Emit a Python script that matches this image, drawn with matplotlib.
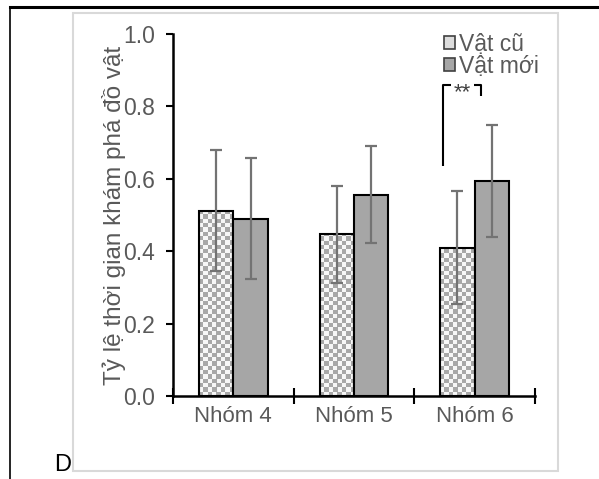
import numpy as np
import matplotlib
matplotlib.use("Agg")
import matplotlib.pyplot as plt
from matplotlib.patches import Patch, Rectangle
from matplotlib.lines import Line2D
from matplotlib.colors import ListedColormap

# Data
groups = ["Nhóm 4", "Nhóm 5", "Nhóm 6"]
series = ["Vật cũ", "Vật mới"]
old_mean = [0.512, 0.447, 0.410]
old_err = [0.168, 0.134, 0.157]
new_mean = [0.490, 0.556, 0.595]
new_err = [0.168, 0.134, 0.155]
yticks = [0.0, 0.2, 0.4, 0.6, 0.8, 1.0]
ylabel = "Tỷ lệ thời gian khám phá đồ vật"
sig_label = "**"
panel_label = "D"

plt.rcParams["font.family"] = ["Liberation Sans", "DejaVu Sans"]
TEXT = "#595959"
SOLID = "#a6a6a6"
ERR = "#737373"

fig = plt.figure(figsize=(5.99, 4.79), dpi=100)

# Panel frame lines
fig.add_artist(Line2D([10 / 599, 1.0], [1 - 7 / 479, 1 - 7 / 479], color="black", lw=2.2,
                      transform=fig.transFigure))
fig.add_artist(Line2D([10 / 599, 10 / 599], [0, 1 - 7 / 479], color="black", lw=1.2,
                      transform=fig.transFigure))
fig.add_artist(Rectangle((73 / 599, 1 - 471 / 479), (558 - 73) / 599, (471 - 13) / 479,
                         fill=False, edgecolor="#d9d9d9", lw=1.5, transform=fig.transFigure))

ax = fig.add_axes([173 / 599, 1 - 396 / 479, (535 - 173) / 599, (396 - 34) / 479])

x = np.arange(len(groups))
w = 0.285
off = 0.143

old_bars = ax.bar(x - off, old_mean, w, facecolor="none", edgecolor="black", lw=1.5, zorder=3)
new_bars = ax.bar(x + off, new_mean, w, color=SOLID, edgecolor="black", lw=1.5, zorder=3)

# Checkerboard fill for the "old object" bars
ncell = 84
ii, jj = np.meshgrid(np.arange(ncell), np.arange(ncell))
checker = ((ii + jj) % 2).astype(float)
cmap = ListedColormap(["#f7f7f7", "#a8a8a8"])
for b in old_bars:
    im = ax.imshow(checker, cmap=cmap, extent=(0, 1, 0, 1), transform=ax.transAxes,
                   interpolation="bilinear", aspect="auto", zorder=2)
    im.set_clip_path(b)

ekw = dict(fmt="none", ecolor=ERR, elinewidth=1.6, capsize=4.3, capthick=1.6, zorder=4)
ax.errorbar(x - off, old_mean, yerr=old_err, **ekw)
ax.errorbar(x + off, new_mean, yerr=new_err, **ekw)

# Significance bracket over Nhóm 6
bx0, bx1 = 1.74, 2.055
ax.plot([bx0, bx0, bx0 + 0.06], [0.635, 0.859, 0.859], color="black", lw=1.5,
        solid_capstyle="butt", zorder=5, clip_on=False)
ax.plot([bx1 - 0.06, bx1, bx1], [0.859, 0.859, 0.829], color="black", lw=1.5,
        solid_capstyle="butt", zorder=5, clip_on=False)
ax.text((bx0 + bx1) / 2, 0.838, sig_label, ha="center", va="center", fontsize=16,
        color="#404040")

ax.set_xlim(-0.5, 2.5)
ax.set_ylim(0, 1.0)
ax.set_yticks(yticks)
ax.set_yticklabels([f"{v:.1f}" for v in yticks])
ax.set_xticks(x)
ax.set_xticklabels(groups)
ax.set_xticks([-0.5, 0.5, 1.5, 2.5], minor=True)
ax.tick_params(axis="x", which="major", length=0, labelsize=16, labelcolor=TEXT, pad=7)
ax.tick_params(axis="x", which="minor", direction="inout", length=12, width=1.5, color="black")
ax.tick_params(axis="y", direction="out", length=5, width=1.5, color="black",
               labelsize=16.5, labelcolor=TEXT, pad=8)

for s in ["top", "right"]:
    ax.spines[s].set_visible(False)
for s in ["left", "bottom"]:
    ax.spines[s].set_linewidth(1.8)
    ax.spines[s].set_color("black")

ax.set_ylabel(ylabel, fontsize=17.5, color=TEXT)
ax.yaxis.set_label_coords(-0.13, 0.5)

handles = [Patch(facecolor="#dcdcdc", edgecolor="#404040", lw=1.2),
           Patch(facecolor=SOLID, edgecolor="#404040", lw=1.2)]
ax.legend(handles, series, loc="upper right", bbox_to_anchor=(1.042, 1.035), frameon=False,
          fontsize=16.5, labelcolor=TEXT, handlelength=0.5, handleheight=0.5,
          handletextpad=0.15, labelspacing=-0.05, borderpad=0.0)

fig.text(63 / 599, 1 - 465 / 479, panel_label, ha="center", va="center", fontsize=17,
         color="black")

fig.savefig("out.png", dpi=100)
